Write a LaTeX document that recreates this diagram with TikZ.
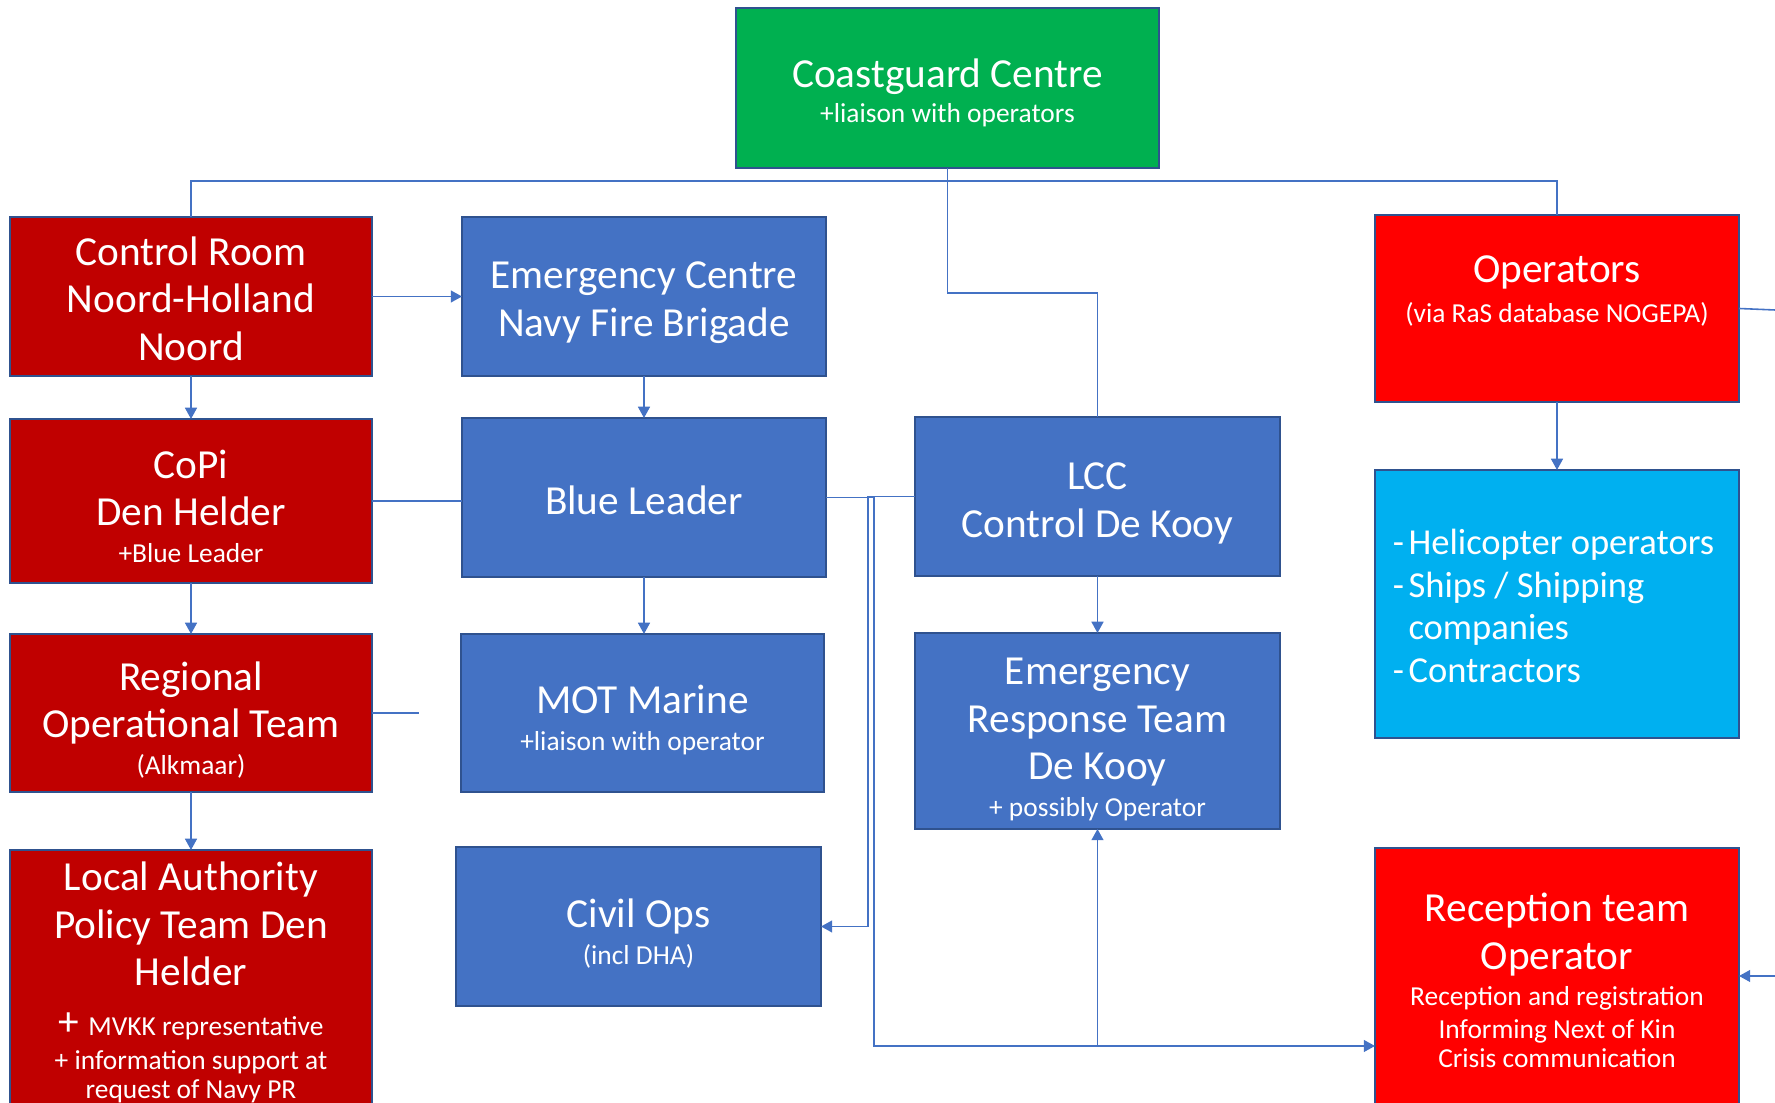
\documentclass[tikz,border=0pt]{standalone}
\usepackage{fontspec}
\setmainfont{Carlito}
\usetikzlibrary{arrows.meta}

\definecolor{cgreen}{HTML}{00B050}
\definecolor{dred}{HTML}{C00000}
\definecolor{bred}{HTML}{FF0000}
\definecolor{mblue}{HTML}{4472C4}
\definecolor{lblue}{HTML}{00B0F0}
\definecolor{edge}{HTML}{2F528F}

\newcommand{\bigtxt}{\fontsize{11.75}{13.5}\selectfont}
\newcommand{\smalltxt}{\fontsize{7.8}{9.5}\selectfont}
\newcommand{\listtxt}{\fontsize{10.4}{12.15}\selectfont}

\begin{document}
\begin{tikzpicture}[x=0.1mm,y=-0.1mm,
	box/.style={draw=edge,line width=0.6pt,text=white,align=center,inner sep=0,outer sep=0,font=\bigtxt},
	txt/.style={text=white,align=center,inner sep=0,font=\bigtxt,execute at begin node={\rule{0pt}{0.952em}},execute at end node={\rule[-0.269em]{0pt}{0pt}}},
	conn/.style={draw=mblue,line width=0.45pt},
	arr/.style={conn,-{Triangle[length=3.2pt,width=3.4pt]}}]
	\useasboundingbox (0,0) rectangle (1775,1103);
	\clip (0,0) rectangle (1775,1103);
	% top
	\node[box,fill=cgreen,minimum width=42.3mm,minimum height=16mm] (cg) at (947.5,88) {};
	\node[txt] (cgtxt) at (947.5,96.5) {Coastguard Centre\\[-3.6pt]\smalltxt +liaison with operators};
	% left column
	\node[box,fill=dred,minimum width=36.2mm,minimum height=15.9mm] (ctrl) at (191,296.5) {};
	\node[txt] (ctrltxt) at (191,304) {Control Room\\Noord-Holland\\Noord};
	\node[box,fill=dred,minimum width=36.2mm,minimum height=16.4mm] (copi) at (191,501) {};
	\node[txt] (copitxt) at (191,512) {CoPi\\Den Helder\\[-3pt]\smalltxt +Blue Leader};
	\node[box,fill=dred,minimum width=36.2mm,minimum height=15.8mm] (rot) at (191,713) {};
	\node[txt] (rottxt) at (191,723.5) {Regional\\Operational Team\\[-3pt]\smalltxt (Alkmaar)};
	\node[box,fill=dred,minimum width=36.2mm,minimum height=26.5mm] (lat) at (191,982.5) {Local Authority\\Policy Team Den\\Helder\\[0.65pt]{\bigtxt +} \smalltxt MVKK representative\\[-3.9pt]\smalltxt + information support at\\[-5.2pt]\smalltxt request of Navy PR};
	% middle column
	\node[box,fill=mblue,minimum width=36.4mm,minimum height=15.9mm] (ecn) at (644,296.5) {};
	\node[txt] (ecntxt) at (644,304.5) {Emergency Centre\\Navy Fire Brigade};
	\node[box,fill=mblue,minimum width=36.4mm,minimum height=15.9mm] (blue) at (644,497.5) {};
	\node[txt] (bluetxt) at (644,500.5) {Blue Leader};
	\node[box,fill=mblue,minimum width=36.3mm,minimum height=15.8mm] (mot) at (642.5,713) {};
	\node[txt] (mottxt) at (642.5,723) {MOT Marine\\[-3pt]\smalltxt +liaison with operator};
	\node[box,fill=mblue,minimum width=36.5mm,minimum height=15.9mm] (civ) at (638.5,926.5) {};
	\node[txt] (civtxt) at (638.5,937) {Civil Ops\\[-3pt]\smalltxt (incl DHA)};
	\node[box,fill=mblue,minimum width=36.5mm,minimum height=15.9mm] (lcc) at (1097.5,496.5) {};
	\node[txt] (lcctxt) at (1097.5,505.5) {LCC\\Control De Kooy};
	\node[box,fill=mblue,minimum width=36.5mm,minimum height=19.6mm] (ert) at (1097.5,731) {};
	\node[txt] (erttxt) at (1097.5,743) {Emergency\\Response Team\\De Kooy\\[-3pt]\smalltxt + possibly Operator};
	% right column
	\node[box,fill=bred,minimum width=36.4mm,minimum height=18.7mm] (ops) at (1557,308.5) {};
	\node[text=white,align=center,font=\bigtxt] (opstxt) at (1557,291) {Operators\\[-2pt]\smalltxt (via RaS database NOGEPA)};
	\node[box,fill=lblue,minimum width=36.4mm,minimum height=26.8mm,font=\listtxt] (heli) at (1557,604) {\raisebox{-1.7pt}[\height][\depth]{\begin{tabular}{@{}l@{\hspace{1.3pt}}l@{\hspace{2pt}}}-&Helicopter operators\\-&Ships / Shipping\\&companies\\-&Contractors\end{tabular}}};
	\node[box,fill=bred,minimum width=36.4mm,minimum height=26.5mm] (rec) at (1557,980.5) {Reception team\\Operator\\[-3.2pt]\smalltxt Reception and registration\\[-4pt]\smalltxt Informing Next of Kin\\[-5.3pt]\smalltxt Crisis communication};
	% connectors
	\coordinate (top) at (947.5,181);
	\coordinate (cgdrop) at (947.5,293);
	\coordinate (rotend) at (419,713);
	\coordinate (bendl) at (868,496.5);
	\coordinate (bendr) at (874,497.5);
	\coordinate (botline) at (874,1046);
	\coordinate (opsout) at (1775,310);
	\coordinate (recin) at (1775,976);
	\draw[conn] (cg.south) -- (top) -| (ctrl.north);
	\draw[conn] (top) -| (ops.north);
	\draw[conn] (top) -- (cgdrop) -| (lcc.north);
	\draw[arr] (ctrl.east) -- (ecn.west);
	\draw[arr] (ctrl.south) -- (copi.north);
	\draw[arr] (copi.south) -- (rot.north);
	\draw[arr] (rot.south) -- (lat.north);
	\draw[conn] (rot.east) -- (rotend);
	\draw[conn] (copi.east) -- (copi.east -| blue.west);
	\draw[arr] (ecn.south) -- (blue.north);
	\draw[arr] (blue.south) -- (blue.south |- mot.north);
	\draw[arr] (lcc.south) -- (ert.north);
	\draw[arr] (lcc.west) -- (bendl) |- (civ.east);
	\draw[arr] (blue.east) -- (bendr) -- (botline) -- (botline -| rec.west);
	\draw[arr] (botline -| ert.south) -- (ert.south);
	\draw[arr] (ops.south) -- (heli.north);
	\draw[conn] (ops.east) -- (opsout);
	\draw[arr] (recin) -- (recin -| rec.east);
\end{tikzpicture}
\end{document}
